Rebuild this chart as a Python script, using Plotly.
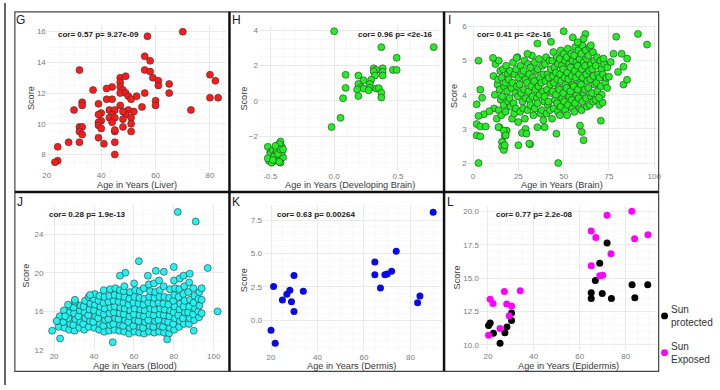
import plotly.graph_objects as go

# ---------------- data ----------------
liver_age = [70, 57, 56, 58, 32, 56, 58, 59, 61, 80,
             82, 65, 61, 47, 49, 47, 47, 44, 42, 37,
             48, 47, 49, 56, 65, 50, 53, 42, 44, 51,
             60, 80, 83, 33, 33, 39, 47, 60, 55, 30,
             43, 45, 50, 52, 73, 40, 39, 44, 49, 43,
             45, 51, 48, 40, 39, 44, 51, 39, 48, 40,
             32, 33, 32, 33, 45, 51, 39, 28, 32, 45,
             41, 24, 45, 24, 23, 45, 48]
liver_score = [16.0, 15.7, 14.4, 14.1, 13.5, 13.5, 13.4, 13.0, 12.8, 13.2,
               12.8, 12.6, 12.5, 13.0, 13.1, 12.7, 12.4, 12.4, 12.3, 12.2,
               12.2, 12.0, 12.0, 12.0, 12.0, 11.8, 11.8, 11.6, 11.6, 11.6,
               11.5, 11.7, 11.7, 11.4, 11.2, 11.3, 11.2, 11.2, 11.1, 10.9,
               10.9, 10.9, 10.9, 10.8, 10.9, 10.7, 10.6, 10.6, 10.6, 10.4,
               10.4, 10.4, 10.3, 10.2, 10.1, 10.1, 10.0, 9.9, 9.8, 9.7,
               9.8, 9.8, 9.5, 9.3, 9.5, 9.5, 9.1, 8.8, 8.8, 8.8,
               8.7, 8.5, 8.0, 7.6, 7.5, 9.6, 10.8]

dev_age = [0.0, 0.37, 0.78, 0.49, 0.31, 0.33, 0.38, 0.46, 0.49, 0.38,
           0.31, 0.09, 0.19, 0.32, 0.38, 0.23, 0.29, 0.28, 0.19, 0.09,
           0.21, 0.23, 0.28, 0.18, 0.27, 0.33, 0.35, 0.37, 0.19, 0.37,
           0.07, 0.05, -0.02,
           -0.52, -0.50, -0.48, -0.46, -0.44, -0.42, -0.41, -0.43, -0.45, -0.47,
           -0.49, -0.51, -0.50, -0.48, -0.46, -0.44, -0.42, -0.40, -0.41, -0.43,
           -0.45, -0.47, -0.49, -0.52, -0.44, -0.42, -0.46, -0.40, -0.43, -0.48]
dev_score = [3.95, 3.05, 3.05, 2.45, 1.85, 1.76, 1.85, 1.76, 1.76, 1.65,
             1.67, 1.48, 1.44, 1.44, 1.44, 1.17, 1.20, 0.96, 0.96, 0.74,
             0.78, 0.70, 0.74, 0.65, 0.60, 0.70, 0.72, 0.46, 0.28, 0.19,
             0.15, -0.96, -1.48,
             -2.60, -2.90, -3.10, -2.70, -2.50, -2.30, -2.60, -2.90, -3.20, -3.40,
             -3.30, -3.40, -3.00, -2.80, -3.00, -3.30, -3.50, -3.20, -2.90, -2.45,
             -2.80, -3.15, -3.50, -3.25, -3.00, -2.75, -2.55, -2.75, -3.45, -3.35]

brain_age = [12.4, 11.3, 13.5, 12.0, 11.6, 13.1,
             14.2, 15.0, 13.8, 14.7, 15.3, 14.1, 14.6,
             16.5, 15.8, 17.2, 16.1, 16.9, 15.6, 16.3, 17.0,
             18.3, 19.1, 17.8, 18.8, 19.4, 18.0, 18.6, 17.5,
             20.4, 19.7, 21.2, 20.1, 20.8, 21.5,
             22.1, 22.9, 21.8, 23.3, 22.4, 22.7,
             24.5, 23.8, 25.1, 24.2, 24.8, 23.6, 24.9,
             26.2, 27.0, 25.7, 26.6, 27.3, 26.0,
             28.4, 27.9, 28.9, 28.1, 29.2, 27.7, 28.6,
             30.3, 31.0, 29.8, 30.6, 31.3, 30.1,
             32.5, 31.8, 33.0, 32.2, 32.8, 31.6, 33.3, 31.5,
             34.1, 34.9, 33.7, 34.5, 35.2, 34.0,
             36.4, 35.8, 37.0, 36.1, 36.7, 35.6, 37.2,
             38.2, 39.0, 37.7, 38.6, 39.3, 38.0, 38.8,
             40.3, 39.7, 41.1, 40.0, 40.8, 39.5, 41.3, 40.5,
             42.2, 42.9, 41.8, 42.6, 43.1, 41.6, 42.4,
             44.3, 43.7, 45.0, 44.1, 44.7, 43.9, 45.2, 44.5, 43.6,
             46.2, 46.9, 45.8, 46.5, 47.1, 45.7, 46.4, 46.8,
             48.4, 47.8, 49.0, 48.1, 48.7, 47.6, 49.2, 48.3, 47.9,
             50.1, 50.8, 49.7, 50.5, 51.0, 49.8, 50.3, 50.9,
             52.3, 51.7, 53.0, 52.0, 52.6, 51.6, 53.1, 52.4, 51.9,
             54.2, 54.9, 53.8, 54.5, 55.0, 53.7, 54.4, 54.8,
             56.4, 55.8, 57.0, 56.1, 56.7, 55.6, 57.2, 56.3, 55.9,
             58.1, 58.8, 57.7, 58.5, 59.0, 57.8, 58.3, 58.9,
             60.3, 59.7, 61.0, 60.1, 60.6, 59.6, 61.1, 60.4, 59.9,
             62.2, 62.9, 61.8, 62.5, 63.0, 61.7, 62.4, 62.8,
             64.3, 63.7, 65.0, 64.1, 64.7, 63.6, 65.1, 64.4,
             66.2, 66.9, 65.8, 66.5, 67.0, 65.7, 66.3,
             68.4, 67.8, 69.0, 68.1, 68.7, 67.6,
             70.2, 70.9, 69.8, 70.5, 71.0, 69.7,
             72.3, 71.7, 72.9,
             74.1, 73.6,
             55.0, 57.7, 65.0,
             3, 47, 3, 50, 91, 96, 79, 35.5, 43, 62,
             61, 11, 24, 30, 4, 2, 5, 6, 3, 9,
             2, 4, 7, 2, 4, 14, 17, 18, 16, 16,
             17, 17.5, 25, 31, 29, 27, 29.5, 46, 39.5, 35.5,
             61, 60, 59, 70.5, 71.5, 69.5, 74, 75, 83, 85,
             80, 83, 85, 82, 77.5, 76, 72]
brain_score = [4.90, 4.55, 4.30, 4.00, 3.60, 3.30,
               5.00, 4.70, 4.45, 4.15, 3.85, 3.55, 3.05,
               4.75, 4.50, 4.25, 3.95, 3.70, 3.40, 2.60, 2.45,
               4.85, 4.60, 4.35, 4.10, 3.80, 3.50, 2.95, 2.80,
               4.70, 4.45, 4.20, 3.90, 3.65, 3.30,
               4.95, 4.60, 4.35, 4.05, 3.75, 3.45,
               5.10, 4.75, 4.50, 4.25, 3.95, 3.60, 3.20,
               4.85, 4.60, 4.30, 4.05, 3.80, 3.50,
               5.00, 4.70, 4.45, 4.15, 3.90, 3.60, 3.30,
               4.90, 4.60, 4.35, 4.10, 3.85, 3.55,
               5.15, 4.80, 4.50, 4.25, 3.95, 3.70, 3.40, 2.55,
               4.95, 4.70, 4.40, 4.15, 3.90, 3.60,
               5.05, 4.75, 4.50, 4.25, 4.00, 3.75, 3.45,
               4.85, 4.60, 4.35, 4.10, 3.80, 3.55, 3.25,
               5.10, 4.90, 4.60, 4.40, 4.15, 3.95, 3.70, 3.45,
               5.00, 4.75, 4.50, 4.30, 4.05, 3.80, 3.55,
               5.25, 5.00, 4.80, 4.55, 4.35, 4.10, 3.85, 3.60, 3.30,
               5.10, 4.90, 4.65, 4.45, 4.20, 4.00, 3.75, 3.50,
               5.30, 5.05, 4.85, 4.60, 4.40, 4.15, 3.90, 3.65, 3.40,
               5.20, 5.00, 4.75, 4.50, 4.30, 4.05, 3.80, 3.55,
               5.35, 5.10, 4.90, 4.65, 4.45, 4.20, 3.95, 3.70, 3.40,
               5.20, 5.00, 4.80, 4.55, 4.30, 4.10, 3.85, 3.60,
               5.40, 5.15, 4.95, 4.70, 4.50, 4.25, 4.00, 3.75, 3.50,
               5.30, 5.05, 4.85, 4.60, 4.35, 4.15, 3.90, 3.60,
               5.45, 5.20, 4.95, 4.75, 4.50, 4.30, 4.05, 3.80, 3.55,
               5.30, 5.05, 4.85, 4.60, 4.40, 4.15, 3.90, 3.65,
               5.40, 5.15, 4.90, 4.70, 4.45, 4.20, 3.95, 3.70,
               5.25, 5.00, 4.75, 4.55, 4.30, 4.05, 3.80,
               5.10, 4.85, 4.60, 4.35, 4.10, 3.85,
               5.00, 4.75, 4.50, 4.25, 4.00, 3.70,
               4.90, 4.60, 4.35,
               4.80, 4.50,
               5.68, 5.54, 5.45,
               2.0, 2.0, 5.0, 5.86, 5.78, 5.47, 5.7, 5.5, 5.55, 5.78,
               5.64, 5.08, 5.08, 5.2, 4.15, 3.72, 3.91, 3.43, 3.38, 3.52,
               3.14, 3.07, 3.07, 2.81, 2.78, 3.05, 2.95, 2.81, 2.62, 2.48,
               2.38, 2.52, 2.52, 2.57, 3.0, 2.88, 2.86, 2.86, 3.05, 3.05,
               2.67, 2.91, 3.1, 3.24, 3.77, 3.91, 4.2, 4.53, 4.3, 4.44,
               4.67, 4.82, 5.06, 5.2, 5.2, 4.96, 5.06]

blood_age = [22.3, 21.6, 22.8,
             25.2, 24.6, 25.8, 24.9,
             27.6, 28.1, 27.2, 27.9, 28.3,
             30.2, 29.6, 30.7, 30.0, 29.8, 30.5,
             32.6, 33.1, 32.2, 32.9, 33.3,
             35.1, 34.6, 35.7, 35.3, 34.8, 35.5,
             37.4, 38.0, 37.1, 37.8, 38.2, 37.3,
             40.2, 39.6, 40.7, 40.0, 40.5, 39.8, 40.3,
             42.6, 43.0, 42.1, 42.8, 43.2, 42.3, 42.7,
             45.1, 44.6, 45.6, 45.0, 45.4, 44.8, 45.3, 44.9,
             47.6, 48.0, 47.2, 47.8, 48.2, 47.3, 47.7, 48.1,
             50.2, 49.7, 50.6, 50.0, 50.4, 49.8, 50.3, 50.7,
             52.7, 53.1, 52.3, 52.9, 53.2, 52.4, 52.8, 53.0,
             55.1, 54.6, 55.6, 55.0, 55.4, 54.8, 55.3, 54.9, 55.2,
             57.6, 58.0, 57.2, 57.8, 58.2, 57.3, 57.7, 58.1,
             60.2, 59.7, 60.6, 60.0, 60.4, 59.8, 60.3, 60.7, 60.1,
             62.7, 63.1, 62.3, 62.9, 63.2, 62.4, 62.8, 63.0,
             65.1, 64.6, 65.6, 65.0, 65.4, 64.8, 65.3, 64.9,
             67.6, 68.0, 67.2, 67.8, 68.2, 67.3, 67.7, 68.1, 67.5,
             70.2, 69.7, 70.6, 70.0, 70.4, 69.8, 70.3, 70.7, 70.1,
             72.7, 73.1, 72.3, 72.9, 73.2, 72.4, 72.8, 73.0, 72.6,
             75.1, 74.6, 75.6, 75.0, 75.4, 74.8, 75.3, 74.9,
             77.6, 78.0, 77.2, 77.8, 78.2, 77.3, 77.7, 78.1,
             80.2, 79.7, 80.6, 80.0, 80.4, 79.8, 80.3, 80.7, 80.1,
             82.7, 83.1, 82.3, 82.9, 83.2, 82.4, 82.8, 83.0,
             85.1, 84.6, 85.6, 85.0, 85.4, 84.8, 85.3, 84.9,
             87.6, 88.0, 87.2, 87.8, 88.2, 87.3, 87.7,
             90.2, 89.7, 90.6, 90.0, 90.4, 89.8,
             92.7, 92.3, 92.9, 92.4, 92.8,
             82, 91, 62.5, 97, 80, 71, 55.7, 53, 67, 75,
             102, 19, 23, 49.4, 76.7, 90, 21.3, 25.5, 30.4, 27,
             38, 94, 94, 94, 88]
blood_score = [14.4, 15.0, 15.5,
               14.3, 14.9, 15.5, 16.1,
               14.1, 14.7, 15.3, 15.9, 16.5,
               14.0, 14.6, 15.2, 15.8, 16.4, 17.0,
               14.3, 14.9, 15.5, 16.1, 16.6,
               14.1, 14.7, 15.3, 15.9, 16.5, 17.1,
               14.4, 15.0, 15.6, 16.2, 16.8, 17.5,
               14.3, 14.9, 15.5, 16.1, 16.7, 17.3, 17.8,
               14.1, 14.7, 15.3, 15.9, 16.5, 17.1, 17.6,
               13.9, 14.5, 15.1, 15.7, 16.3, 16.9, 17.5, 18.2,
               14.0, 14.6, 15.2, 15.8, 16.4, 17.0, 17.6, 18.3,
               14.1, 14.7, 15.3, 15.9, 16.5, 17.1, 17.7, 18.4,
               14.0, 14.6, 15.2, 15.8, 16.4, 17.0, 17.6, 18.2,
               13.9, 14.5, 15.1, 15.7, 16.3, 16.9, 17.5, 18.1, 18.6,
               13.7, 14.3, 14.9, 15.5, 16.1, 16.7, 17.3, 18.0,
               13.9, 14.5, 15.1, 15.7, 16.3, 16.9, 17.5, 18.2, 18.9,
               13.8, 14.4, 15.0, 15.6, 16.2, 16.8, 17.4, 18.1,
               13.7, 14.3, 14.9, 15.5, 16.1, 16.7, 17.3, 18.4,
               13.9, 14.5, 15.1, 15.7, 16.3, 16.9, 17.5, 18.1, 18.8,
               13.8, 14.4, 15.0, 15.6, 16.2, 16.8, 17.4, 18.0, 18.9,
               13.9, 14.5, 15.1, 15.7, 16.3, 16.9, 17.5, 18.2, 19.2,
               13.8, 14.4, 15.0, 15.6, 16.2, 16.8, 17.5, 18.6,
               13.7, 14.3, 14.9, 15.5, 16.1, 16.7, 17.4, 18.3,
               14.1, 14.7, 15.3, 15.9, 16.5, 17.1, 17.7, 18.4, 19.2,
               14.4, 15.0, 15.6, 16.2, 16.8, 17.5, 18.3, 19.4,
               14.7, 15.3, 15.9, 16.5, 17.1, 17.8, 18.6, 19.7,
               14.7, 15.3, 15.9, 16.5, 17.2, 18.0, 19.0,
               15.1, 15.7, 16.3, 16.9, 17.6, 18.4,
               15.4, 16.0, 16.6, 17.3, 18.0,
               26.3, 25.3, 21.2, 20.5, 20.6, 20.2, 20.0, 19.7, 19.7, 20.1,
               16.0, 14.0, 13.2, 12.8, 13.1, 14.0, 15.0, 15.5, 17.2, 16.7,
               17.7, 15.8, 17.2, 18.4, 19.9]

dermis_age = [89.8, 73.9, 64.7, 64.7, 69, 70, 71.9, 67.1, 84.1, 83.1,
              29.9, 21.1, 33.9, 28.1, 26.8, 24.9, 28.8, 29.9, 20, 21.8]
dermis_score = [8.1, 5.18, 4.37, 3.42, 3.42, 3.47, 3.67, 2.42, 1.83, 1.32,
                3.35, 2.54, 2.18, 2.25, 1.96, 1.52, 1.39, 0.66, -0.73, -1.71]

protected_age = [71.9, 68.7, 66.8, 65, 65, 69.8, 73.8, 82.8, 89.6, 84,
                 30.3, 30.3, 28.3, 21, 20.3, 22.4, 27.4, 25.3]
protected_score = [17.63, 16.11, 14.82, 13.91, 13.47, 13.84, 13.47, 14.5, 14.5, 13.52,
                   12.38, 11.83, 11.34, 11.64, 11.44, 10.86, 10.9, 10.12]
exposed_age = [82.7, 71.9, 65, 67, 83.9, 89.7, 73.6, 65, 68.7, 70,
               21, 22.2, 27.2, 34.1, 28.2, 30.3, 29.3, 25.3, 20.3]
exposed_score = [20.0, 19.7, 18.53, 18.04, 17.95, 18.24, 16.82, 15.92, 15.18, 15.21,
                 13.42, 13.1, 13.99, 14.06, 13.06, 12.9, 12.18, 11.22, 10.71]

panel_letters = ["G", "H", "I", "J", "K", "L"]
x_titles = ["Age in Years (Liver)", "Age in Years (Developing Brain)", "Age in Years (Brain)",
            "Age in Years (Blood)", "Age in Years (Dermis)", "Age in Years (Epidermis)"]
cor_labels = ["cor= 0.57 p= 9.27e-09", "cor= 0.96 p= <2e-16", "cor= 0.41 p= <2e-16",
              "cor= 0.28 p= 1.9e-13", "cor= 0.63 p= 0.00264", "cor= 0.77 p= 2.2e-08"]
legend_names = ["Sun<br>protected", "Sun<br>Exposed"]

# ---------------- layout helpers ----------------
W, H = 720, 390
FONT = "Liberation Sans, Arial, sans-serif"


def px_x(v):
    return v / W


def px_y(v):
    return 1 - v / H


fig = go.Figure()

# panel specs: pixel box of plot area (left, right, top, bottom), ranges, ticks
panels = [
    dict(box=(43.3, 224.8, 22.6, 169.2), xr=[20, 86], yr=[7.075, 16.425],
         xt=[20, 40, 60, 80], yt=[8, 10, 12, 14, 16], xtt=None, ytt=None),
    dict(box=(257.7, 442.0, 23.1, 170.0), xr=[-0.59, 0.838], yr=[-3.89, 4.27],
         xt=[-0.5, 0, 0.5], yt=[-2, 0, 2, 4], xtt=["-0.5", "0.0", "0.5"], ytt=None),
    dict(box=(469.0, 660.7, 22.6, 170.0), xr=[-2.9, 101.7], yr=[1.81, 6.04],
         xt=[0, 25, 50, 75, 100], yt=[2, 3, 4, 5, 6], xtt=None, ytt=None),
    dict(box=(40.8, 222.7, 206.4, 354.3), xr=[15.1, 105.3], yr=[12.0, 27.0],
         xt=[20, 40, 60, 80, 100], yt=[12, 16, 20, 24], xtt=None, ytt=None),
    dict(box=(261.8, 442.7, 206.7, 355.4), xr=[16.5, 93.5], yr=[-2.3, 8.6],
         xt=[20, 40, 60, 80], yt=[0, 2.5, 5, 7.5], xtt=None, ytt=["0.0", "2.5", "5.0", "7.5"]),
    dict(box=(481.2, 660.0, 207.4, 354.3), xr=[16.5, 93.5], yr=[9.61, 20.39],
         xt=[20, 40, 60, 80], yt=[10, 12.5, 15, 17.5, 20], xtt=None,
         ytt=["10.0", "12.5", "15.0", "17.5", "20.0"]),
]

series = [
    [(liver_age, liver_score, "#ff1a1a", True)],
    [(dev_age, dev_score, "#22ee22", True)],
    [(brain_age, brain_score, "#22ee22", True)],
    [(blood_age, blood_score, "#22f2f2", True)],
    [(dermis_age, dermis_score, "#0a0ae6", False)],
    [(protected_age, protected_score, "#000000", False),
     (exposed_age, exposed_score, "#ff00ff", False)],
]

layout_axes = {}
for i, p in enumerate(panels):
    n = i + 1
    l, r, t, b = p["box"]
    xa = "xaxis" if n == 1 else f"xaxis{n}"
    ya = "yaxis" if n == 1 else f"yaxis{n}"
    common = dict(showline=False, zeroline=False, ticks="", showgrid=True,
                  gridcolor="#e6e6e6", gridwidth=0.8,
                  minor=dict(showgrid=True, gridcolor="#f3f3f3", gridwidth=0.5),
                  tickfont=dict(family=FONT, size=8, color="#7a7a7a"),
                  fixedrange=True)
    layout_axes[xa] = dict(domain=[px_x(l), px_x(r)], range=p["xr"], tickvals=p["xt"],
                           anchor=f"y{n}" if n > 1 else "y", **common)
    if p["xtt"]:
        layout_axes[xa]["ticktext"] = p["xtt"]
    layout_axes[ya] = dict(domain=[px_y(b), px_y(t)], range=p["yr"], tickvals=p["yt"],
                           anchor=f"x{n}" if n > 1 else "x", **common)
    if p["ytt"]:
        layout_axes[ya]["ticktext"] = p["ytt"]
    for xs, ys, col, outline in series[i]:
        fig.add_trace(go.Scatter(
            x=xs, y=ys, mode="markers", showlegend=False, hoverinfo="skip",
            xaxis=f"x{n}" if n > 1 else "x", yaxis=f"y{n}" if n > 1 else "y",
            marker=dict(size=7, color=col,
                        line=dict(color="#333333", width=0.6 if outline else 0))))

# ---------------- annotations ----------------
ann = []
letter_pos = [(17, 17), (235, 17), (450, 17), (16, 203), (235, 203), (452, 203)]
cor_pos = [(96, 31.7), (396, 32), (516.5, 32), (84, 216), (316, 216), (536, 216)]
xtitle_pos = [(134, 185.5), (350, 185.5), (564, 185.5), (132.5, 370.5), (351.7, 370.5), (570.5, 370.5)]
ytitle_pos = [(26.7, 96.7), (242.3, 98), (455, 95), (22.7, 278), (242.7, 283), (458.3, 280)]


def text_ann(text, x, y, size, color, angle=0):
    return dict(text=text, x=px_x(x), y=px_y(y), xref="paper", yref="paper",
                xanchor="center", yanchor="middle", showarrow=False, textangle=angle,
                borderpad=0, font=dict(family=FONT, size=size, color=color))


for i in range(6):
    ann.append(text_ann(panel_letters[i], *letter_pos[i], 12, "#222222"))
    ann.append(text_ann(f"<b>{cor_labels[i]}</b>", *cor_pos[i], 8, "#1a1a1a"))
    ann.append(text_ann(x_titles[i], *xtitle_pos[i], 9.2, "#3a3a3a"))
    ann.append(text_ann("Score", *ytitle_pos[i], 9.2, "#3a3a3a", -90))

# manual legend for panel L
leg_y = [319.5, 357]
leg_col = ["#000000", "#ff00ff"]
shapes = []
for k in range(2):
    ann.append(dict(text=legend_names[k], x=px_x(673), y=px_y(leg_y[k]), xref="paper", yref="paper",
                    xanchor="left", yanchor="middle", align="left", showarrow=False,
                    borderpad=0,
                    font=dict(family=FONT, size=10, color="#333333")))
    shapes.append(dict(type="circle", xref="paper", yref="paper",
                       x0=px_x(664.5), x1=px_x(671.5), y0=px_y(leg_y[k] + 3.5), y1=px_y(leg_y[k] - 3.5),
                       fillcolor=leg_col[k], line=dict(width=0)))


# ---------------- frame lines ----------------
def line(x0, y0, x1, y1, color, width):
    return dict(type="line", xref="paper", yref="paper", x0=px_x(x0), y0=px_y(y0),
                x1=px_x(x1), y1=px_y(y1), line=dict(color=color, width=width), layer="above")


shapes += [
    line(1, 0, 1, 390, "#333333", 1.5),
    dict(type="rect", xref="paper", yref="paper", x0=px_x(11), x1=px_x(662), y0=px_y(376), y1=px_y(9),
         line=dict(color="#444444", width=1.2), layer="above"),
    line(228, 9, 228, 376, "#111111", 2.5),
    line(445, 9, 445, 376, "#111111", 2.5),
    line(11, 193, 662, 193, "#111111", 2.5),
]

fig.update_layout(width=W, height=H, margin=dict(l=0, r=0, t=0, b=0),
                  paper_bgcolor="white", plot_bgcolor="white",
                  annotations=ann, shapes=shapes, showlegend=False, hovermode=False,
                  font=dict(family=FONT), **layout_axes)

fig.write_html("out.html", config={"displayModeBar": False, "staticPlot": True},
               post_script="document.body.style.margin='0';document.body.style.overflow='hidden';")
